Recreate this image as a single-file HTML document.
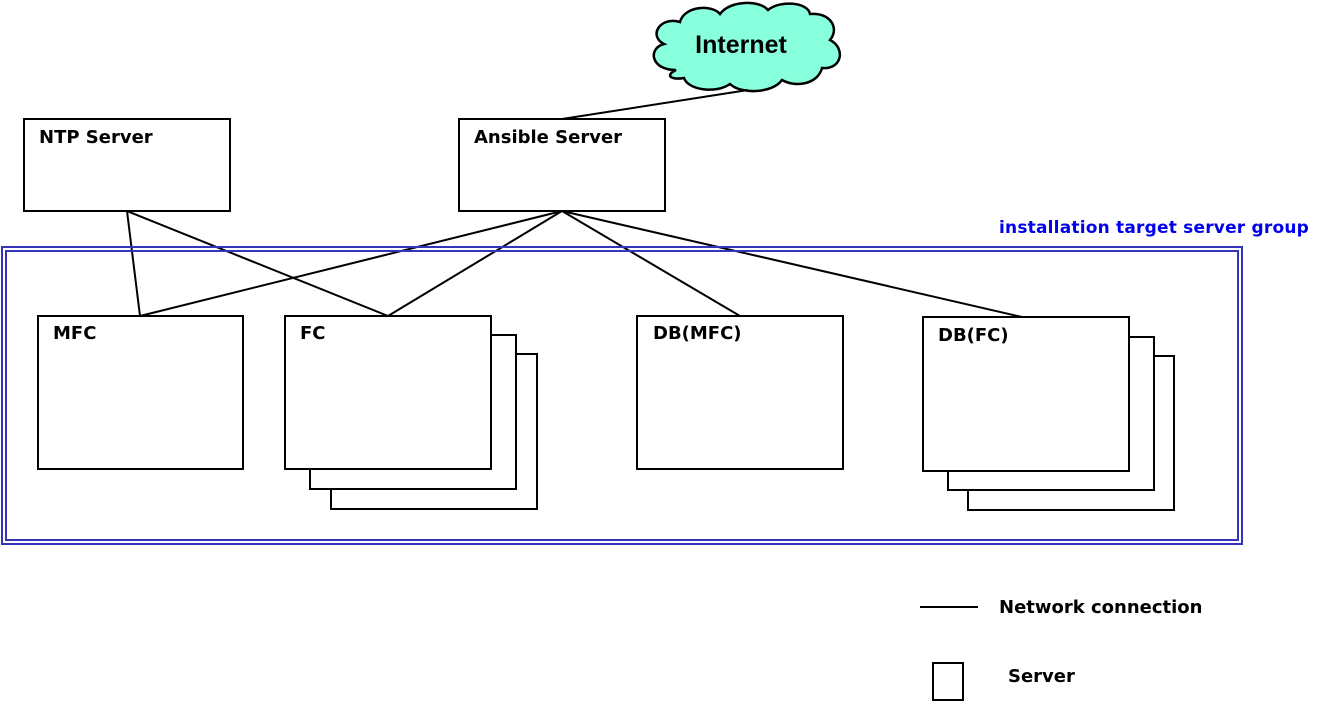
<!DOCTYPE html>
<html><head><meta charset="utf-8"><style>
body{margin:0;background:#fff;}
svg{display:block}
text{font-family:"DejaVu Sans","Liberation Sans",sans-serif;font-weight:bold;font-size:18px;fill:#000}
</style></head><body>
<svg width="1329" height="702" viewBox="0 0 1329 702" xmlns="http://www.w3.org/2000/svg">
<g fill="#fff" stroke="#000" stroke-width="2">
<path d="M676,70 C650,70 648,48 664,44 C648,36 660,16 680,22 C684,6 712,4 720,14 C730,0 760,0 768,10 C780,0 808,2 810,14 C830,12 840,28 830,40 C846,48 842,70 822,68 C818,84 796,88 782,80 C772,94 740,94 730,84 C716,94 688,90 684,78 C672,80 664,76 676,70 Z" fill="#88ffdd" stroke-width="2.5"/>
<rect x="24" y="119" width="206" height="92"/>
<rect x="459" y="119" width="206" height="92"/>
<rect x="38" y="316" width="205" height="153"/>
<rect x="331" y="354" width="206" height="155"/>
<rect x="310" y="335" width="206" height="154"/>
<rect x="285" y="316" width="206" height="153"/>
<rect x="637" y="316" width="206" height="153"/>
<rect x="968" y="356" width="206" height="154"/>
<rect x="948" y="337" width="206" height="153"/>
<rect x="923" y="317" width="206" height="154"/>
<rect x="933" y="663" width="30" height="37"/>
</g>
<g stroke="#000" stroke-width="2">
<line x1="562" y1="119" x2="748" y2="90"/>
<line x1="127" y1="211" x2="140" y2="316"/>
<line x1="127" y1="211" x2="388" y2="316"/>
<line x1="562" y1="211" x2="140" y2="316"/>
<line x1="562" y1="211" x2="388" y2="316"/>
<line x1="562" y1="211" x2="740" y2="316"/>
<line x1="562" y1="211" x2="1022" y2="317"/>
<line x1="920" y1="607" x2="978" y2="607"/>
</g>
<g fill="none" stroke="#3333bb" stroke-width="2">
<rect x="2" y="247" width="1240" height="297"/>
<rect x="6" y="251" width="1232" height="289"/>
</g>
<text x="741" y="53" text-anchor="middle" style="font-family:'Liberation Sans',sans-serif;font-size:25px">Internet</text>
<text x="39" y="143">NTP Server</text>
<text x="474" y="143">Ansible Server</text>
<text x="53" y="339">MFC</text>
<text x="300" y="339">FC</text>
<text x="653" y="339">DB(MFC)</text>
<text x="938" y="341">DB(FC)</text>
<text x="999" y="233" style="fill:#0000ee;font-size:17px;letter-spacing:0.2px">installation target server group</text>
<text x="999" y="613">Network connection</text>
<text x="1008" y="682">Server</text>
</svg>
</body></html>
